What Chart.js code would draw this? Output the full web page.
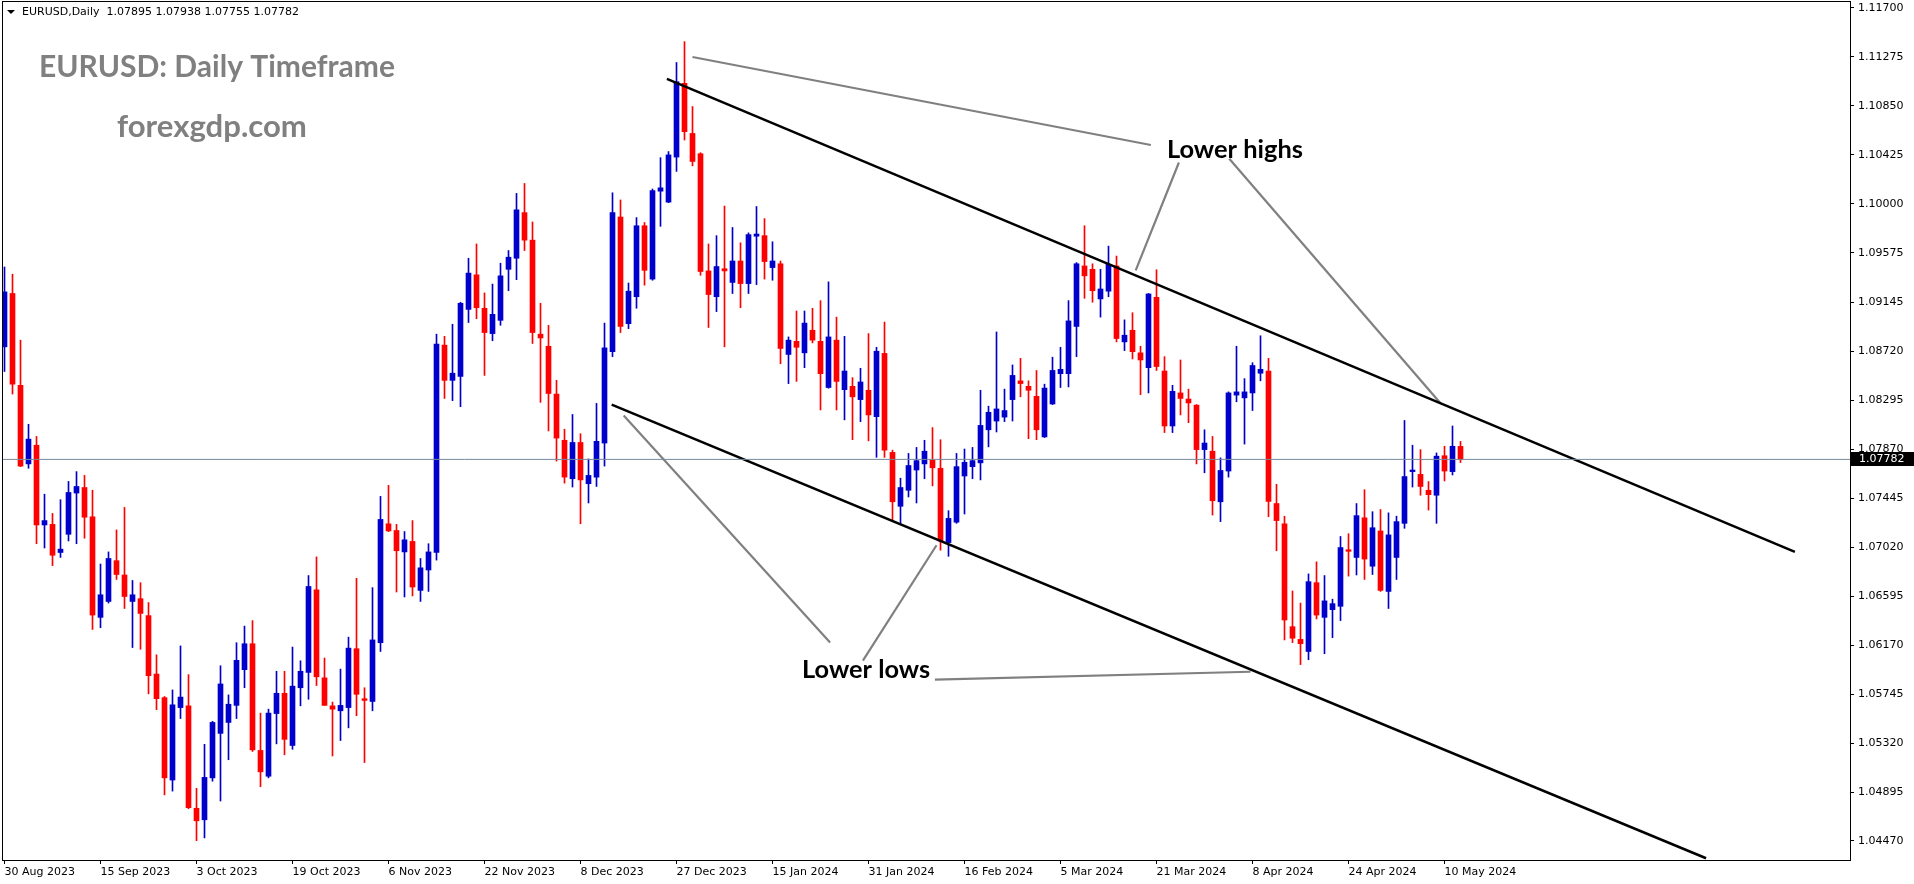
<!DOCTYPE html>
<html><head><meta charset="utf-8">
<script src="https://cdn.jsdelivr.net/npm/chart.js@4.4.0/dist/chart.umd.min.js"></script>
<style>html,body{margin:0;padding:0;background:#fff;overflow:hidden}canvas{display:block}</style>
</head><body>
<canvas id="c" width="1914" height="884" style="width:1914px;height:884px"></canvas>
<script>
const opens=[1.08759,1.09222,1.08425,1.07743,1.07905,1.07213,1.07218,1.06974,1.07132,1.07490,1.07538,1.07284,1.06411,1.06549,1.06903,1.06779,1.06549,1.06573,1.06426,1.05919,1.05714,1.04999,1.05628,1.05643,1.04754,1.04654,1.05018,1.05404,1.05499,1.05647,1.05957,1.06182,1.05256,1.05032,1.05576,1.05752,1.05299,1.05800,1.05933,1.06650,1.05886,1.05643,1.05600,1.05628,1.06139,1.05705,1.05681,1.06191,1.07223,1.07165,1.06979,1.07070,1.06645,1.06822,1.06974,1.08774,1.08468,1.08502,1.09084,1.09384,1.09094,1.08874,1.08989,1.09432,1.09528,1.09924,1.09685,1.08869,1.08764,1.08349,1.07948,1.07614,1.07929,1.07571,1.07628,1.07924,1.08717,1.09886,1.08960,1.09194,1.09810,1.09347,1.10110,1.10015,1.10406,1.11046,1.10611,1.10435,1.09418,1.09194,1.09437,1.09318,1.09504,1.09308,1.09719,1.09724,1.09447,1.09480,1.08693,1.08807,1.08707,1.08903,1.08807,1.08406,1.08817,1.08387,1.08416,1.08301,1.08382,1.08153,1.08702,1.07843,1.07375,1.07514,1.07690,1.07743,1.07776,1.07705,1.07060,1.07237,1.07638,1.07719,1.07752,1.08039,1.08115,1.08149,1.08301,1.08464,1.08416,1.08330,1.07977,1.08263,1.08526,1.08526,1.08936,1.09461,1.09432,1.09175,1.09242,1.09461,1.08802,1.08903,1.08707,1.08578,1.09189,1.08549,1.08072,1.08359,1.08306,1.08253,1.07867,1.07853,1.07414,1.07681,1.08340,1.08316,1.08359,1.08530,1.08549,1.07399,1.07223,1.06330,1.06220,1.06115,1.06712,1.06411,1.06478,1.06507,1.06998,1.06931,1.07275,1.06855,1.07161,1.06636,1.06931,1.07227,1.07676,1.07652,1.07514,1.07471,1.07814,1.07676,1.07895];
const highs=[1.09452,1.09389,1.08817,1.08087,1.07981,1.07480,1.07313,1.07432,1.07591,1.07676,1.07643,1.07514,1.06874,1.06979,1.07170,1.07365,1.06731,1.06712,1.06540,1.06086,1.05724,1.05781,1.06163,1.05914,1.04927,1.05309,1.05509,1.05991,1.05738,1.06191,1.06335,1.06383,1.05580,1.05614,1.05943,1.05943,1.06153,1.06034,1.06774,1.06936,1.06058,1.05676,1.05962,1.06239,1.06750,1.05800,1.06669,1.07461,1.07557,1.07218,1.07156,1.07251,1.06922,1.07050,1.08869,1.08850,1.08955,1.09146,1.09528,1.09652,1.09227,1.09304,1.09485,1.09595,1.10091,1.10177,1.09843,1.09137,1.08946,1.08468,1.08044,1.08172,1.08005,1.07786,1.08268,1.08965,1.10096,1.10034,1.09313,1.09881,1.09838,1.10129,1.10401,1.10454,1.11227,1.11408,1.10845,1.10444,1.09652,1.09724,1.09981,1.09795,1.09662,1.09748,1.09977,1.09872,1.09671,1.09504,1.08845,1.09070,1.09070,1.09094,1.09160,1.09323,1.09017,1.08850,1.08492,1.08573,1.08874,1.08755,1.08974,1.07862,1.07619,1.07834,1.07886,1.07948,1.08058,1.07953,1.07337,1.07834,1.07872,1.07886,1.08382,1.08244,1.08888,1.08392,1.08602,1.08659,1.08464,1.08554,1.08435,1.08669,1.08755,1.09160,1.09490,1.09810,1.09480,1.09432,1.09633,1.09547,1.08993,1.09055,1.08764,1.09222,1.09428,1.08674,1.08425,1.08645,1.08392,1.08258,1.08039,1.07981,1.07795,1.08368,1.08764,1.08483,1.08621,1.08855,1.08659,1.07566,1.07289,1.06640,1.06535,1.06788,1.06893,1.06774,1.06569,1.07113,1.07137,1.07399,1.07519,1.07328,1.07347,1.07318,1.07289,1.08120,1.07905,1.07867,1.07590,1.07838,1.07896,1.08072,1.07938];
const lows=[1.08545,1.08349,1.07719,1.07705,1.07050,1.07013,1.06860,1.06931,1.07074,1.07050,1.07098,1.06306,1.06321,1.06535,1.06740,1.06488,1.06149,1.06134,1.05747,1.05610,1.04870,1.04903,1.05533,1.04750,1.04473,1.04497,1.04989,1.04817,1.05175,1.05533,1.05800,1.05247,1.04941,1.05018,1.05313,1.05218,1.05266,1.05643,1.05700,1.05819,1.05647,1.05208,1.05342,1.05452,1.05557,1.05151,1.05600,1.06115,1.07156,1.06631,1.06588,1.06597,1.06549,1.06636,1.06908,1.08311,1.08292,1.08239,1.08970,1.09003,1.08511,1.08812,1.08946,1.09246,1.09342,1.09595,1.08788,1.08277,1.08029,1.07767,1.07576,1.07542,1.07223,1.07404,1.07547,1.07724,1.08674,1.08883,1.08917,1.09094,1.09294,1.09337,1.09805,1.10010,1.10282,1.10554,1.10330,1.09380,1.08927,1.09065,1.08759,1.09222,1.09098,1.09222,1.09299,1.09347,1.09337,1.08612,1.08440,1.08459,1.08578,1.08793,1.08211,1.08400,1.08211,1.08125,1.07953,1.08110,1.07943,1.07800,1.07800,1.07242,1.07218,1.07456,1.07404,1.07614,1.07552,1.06994,1.06941,1.07227,1.07308,1.07614,1.07604,1.07891,1.08020,1.08110,1.08115,1.08325,1.07962,1.07953,1.07972,1.08258,1.08406,1.08411,1.08674,1.09180,1.09146,1.09017,1.09194,1.08802,1.08726,1.08654,1.08344,1.08359,1.08554,1.08015,1.08015,1.08168,1.08101,1.07743,1.07666,1.07299,1.07242,1.07628,1.08282,1.07915,1.08206,1.08464,1.07285,1.06989,1.06215,1.06191,1.06001,1.06043,1.06397,1.06096,1.06235,1.06383,1.06769,1.06779,1.06740,1.06783,1.06636,1.06488,1.06740,1.07184,1.07542,1.07471,1.07342,1.07227,1.07595,1.07647,1.07755];
const closes=[1.09236,1.08435,1.07724,1.07958,1.07213,1.07251,1.06950,1.07003,1.07495,1.07547,1.07280,1.06431,1.06607,1.06922,1.06783,1.06592,1.06607,1.06445,1.05905,1.05705,1.05018,1.05652,1.05719,1.04759,1.04645,1.05022,1.05499,1.05833,1.05657,1.06038,1.06182,1.05261,1.05070,1.05580,1.05752,1.05352,1.05814,1.05943,1.06679,1.05895,1.05647,1.05614,1.05647,1.06144,1.05743,1.05690,1.06215,1.07261,1.07161,1.06989,1.07084,1.06674,1.06841,1.06979,1.08783,1.08468,1.08530,1.09137,1.09399,1.09098,1.08883,1.09041,1.09375,1.09537,1.09948,1.09685,1.08883,1.08836,1.08354,1.07967,1.07628,1.07929,1.07604,1.07643,1.07939,1.08750,1.09924,1.08936,1.09242,1.09810,1.09423,1.10115,1.10139,1.10425,1.11060,1.10626,1.10368,1.09413,1.09213,1.09456,1.09418,1.09504,1.09308,1.09733,1.09738,1.09499,1.09504,1.08745,1.08817,1.08755,1.08965,1.08817,1.08526,1.08845,1.08459,1.08549,1.08325,1.08454,1.08168,1.08721,1.07862,1.07414,1.07538,1.07729,1.07771,1.07853,1.07709,1.07074,1.07270,1.07719,1.07757,1.07771,1.08077,1.08191,1.08220,1.08206,1.08511,1.08440,1.08382,1.08039,1.08401,1.08554,1.08564,1.08984,1.09480,1.09375,1.09246,1.09261,1.09475,1.08831,1.08860,1.08717,1.08645,1.09218,1.08588,1.08072,1.08373,1.08311,1.08272,1.07867,1.07924,1.07423,1.07686,1.08359,1.08368,1.08368,1.08597,1.08564,1.07418,1.07251,1.06388,1.06230,1.06182,1.06721,1.06431,1.06554,1.06530,1.07017,1.06984,1.07294,1.06917,1.07189,1.06645,1.07127,1.07242,1.07633,1.07690,1.07547,1.07476,1.07810,1.07681,1.07896,1.07782];

const tickIdx=[0,12,24,36,48,60,72,84,96,108,120,132,144,156,168,180];
const tickLabels=['30 Aug 2023','15 Sep 2023','3 Oct 2023','19 Oct 2023','6 Nov 2023','22 Nov 2023','8 Dec 2023','27 Dec 2023','15 Jan 2024','31 Jan 2024','16 Feb 2024','5 Mar 2024','21 Mar 2024','8 Apr 2024','24 Apr 2024','10 May 2024'];
const priceTicks=[1.11700,1.11275,1.10850,1.10425,1.10000,1.09575,1.09145,1.08720,1.08295,1.07870,1.07445,1.07020,1.06595,1.06170,1.05745,1.05320,1.04895,1.04470];
const lastPrice=1.07782;
const headerText='EURUSD,Daily  1.07895 1.07938 1.07755 1.07782';

const channelUpper=[[82.8,1.11084],[223.8,1.06980]];
const channelLower=[[75.9,1.08258],[212.7,1.04320]];
const pointerLines=[
 [[86.0,1.11275],[143.3,1.10511]],
 [[146.8,1.10359],[141.4,1.09423]],
 [[153.1,1.10392],[179.5,1.08269]],
 [[77.4,1.08164],[103.2,1.06193]],
 [[107.3,1.06035],[116.5,1.07037]],
 [[116.3,1.05871],[155.75,1.05939]]
];
const labelHighs={text:'Lower highs',x:145.3,y:1.10400,w:136};
const labelLows={text:'Lower lows',x:99.7,y:1.05885,w:128};

const BLUE='#0000cc', RED='#ff0000';
const idx=opens.map((_,i)=>i);
const cols=idx.map(i=>closes[i]>opens[i]?BLUE:RED);

function lineDs(pts,color,w){
  return {type:'line',data:pts.map(p=>({x:p[0],y:p[1]})),borderColor:color,borderWidth:w,pointRadius:0,fill:false,order:-1,tension:0};
}

const datasets=[
 {type:'bar',data:idx.map(i=>({x:i,y:[opens[i],closes[i]]})),backgroundColor:cols,barThickness:5,minBarLength:1,grouped:false,borderWidth:0,order:1},
 {type:'bar',data:idx.map(i=>({x:i,y:[lows[i],highs[i]]})),backgroundColor:cols,barThickness:1,grouped:false,borderWidth:0,order:2},
 lineDs([[-0.2,lastPrice],[230.7,lastPrice]],'#778899',1),
 lineDs(channelUpper,'#000000',2.5),
 lineDs(channelLower,'#000000',2.5)
];
pointerLines.forEach(l=>datasets.push(lineDs(l,'#808080',2.2)));

function fitText(ctx,text,x,y,w,weight,family,base){
  ctx.font=`${weight} ${base}px ${family}`;
  const m=ctx.measureText(text).width;
  const s=base*w/m;
  ctx.font=`${weight} ${s.toFixed(2)}px ${family}`;
  ctx.fillText(text,x,y);
}

const deco={
 id:'deco',
 beforeDraw(chart){const c=chart.ctx;c.save();c.fillStyle='#fff';c.fillRect(0,0,chart.width,chart.height);c.restore();},
 afterDraw(chart){
  const c=chart.ctx, ca=chart.chartArea, xs=chart.scales.x, ys=chart.scales.y;
  c.save();
  // frame
  c.strokeStyle='#000';c.lineWidth=1;
  c.strokeRect(ca.left-0.5,ca.top-0.5,ca.right-ca.left+1,ca.bottom-ca.top+1);
  // header
  c.fillStyle='#000';
  c.beginPath();c.moveTo(ca.left+4,ca.top+8);c.lineTo(ca.left+12,ca.top+8);c.lineTo(ca.left+8,ca.top+12);c.closePath();c.fill();
  c.font='11px "DejaVu Sans"';c.textBaseline='middle';c.textAlign='left';
  c.fillText(headerText,ca.left+19,ca.top+10);
  // titles
  c.fillStyle='#808080';c.textBaseline='alphabetic';
  fitText(c,'EURUSD: Daily Timeframe',ca.left+36,ca.top+75,356,'bold','Lato',28);
  fitText(c,'forexgdp.com',ca.left+114,ca.top+135,190,'bold','Lato',26);
  // annotations
  c.fillStyle='#000';
  fitText(c,labelHighs.text,xs.getPixelForValue(labelHighs.x),ys.getPixelForValue(labelHighs.y),labelHighs.w,'bold','Lato',22);
  fitText(c,labelLows.text,xs.getPixelForValue(labelLows.x),ys.getPixelForValue(labelLows.y),labelLows.w,'bold','Lato',22);
  // price box
  const py=Math.round(ys.getPixelForValue(lastPrice));
  c.fillStyle='#000';c.fillRect(ca.right+1,py-7,chart.width-ca.right-1,14);
  c.fillStyle='#fff';c.font='11px "DejaVu Sans"';c.textBaseline='middle';
  c.fillText(lastPrice.toFixed(5),ca.right+9,py);
  c.restore();
 }
};

new Chart(document.getElementById('c'),{
 type:'bar',
 data:{datasets},
 options:{
  responsive:false,animation:false,events:[],
  layout:{padding:{left:3,top:2,right:0,bottom:0}},
  plugins:{legend:{display:false},tooltip:{enabled:false},title:{display:false}},
  scales:{
   x:{type:'linear',min:-0.1875,max:230.6875,offset:false,
      grid:{display:true,drawOnChartArea:false,drawTicks:true,tickLength:4,color:'#000',offset:false},
      border:{display:false},
      afterBuildTicks:s=>{s.ticks=tickIdx.map(v=>({value:v}));},
      afterFit:s=>{s.height=24;s.paddingLeft=0;s.paddingRight=0;},
      ticks:{autoSkip:false,maxRotation:0,minRotation:0,align:'start',padding:2,color:'#000',font:{family:'DejaVu Sans',size:11},
             callback:v=>tickLabels[tickIdx.indexOf(v)]}},
   y:{position:'right',min:1.04305,max:1.11752,
      grid:{display:true,drawOnChartArea:false,drawTicks:true,tickLength:4,color:'#000'},
      border:{display:false},
      afterBuildTicks:s=>{s.ticks=priceTicks.map(v=>({value:v}));},
      afterFit:s=>{s.width=64;s.paddingTop=0;s.paddingBottom=0;},
      ticks:{padding:4,crossAlign:'near',color:'#000',font:{family:'DejaVu Sans',size:11},callback:v=>v.toFixed(5)}}
  }
 },
 plugins:[deco]
});
</script>
</body></html>
